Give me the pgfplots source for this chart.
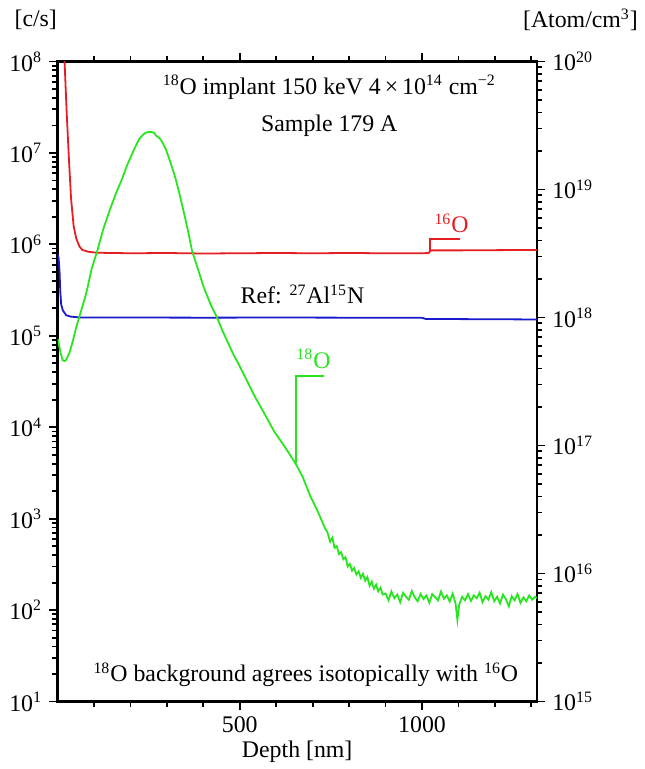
\documentclass[border=0pt]{standalone}
\usepackage{pgfplots}
\pgfplotsset{compat=1.18}
\usepackage{fontspec}
\setmainfont{Liberation Serif}
\usetikzlibrary{calc}
\definecolor{sred}{RGB}{230,30,35}
\definecolor{sgreen}{RGB}{40,230,30}
\definecolor{sblue}{RGB}{25,25,205}

\begin{document}
\begin{tikzpicture}
% right axis [Atom/cm3]
\begin{axis}[width=241.5pt, height=322.5pt, scale only axis,
  xmin=0, xmax=1315,
  ymode=log, log basis y=10, ymin=1e15, ymax=1e20,
  tick align=outside, tick style={line width=0.9pt, black},
  axis line style={line width=1.1pt},
  xtick=\empty, ytick pos=right,
  font=\fontsize{12}{14}\selectfont,
  yticklabel={10\textsuperscript{\pgfmathparse{int(round(\tick))}\pgfmathresult}},
]
\addplot[draw=none] coordinates {(100,1e16)};
\end{axis}
% main axis [c/s]
\begin{axis}[name=main, width=241.5pt, height=322.5pt, scale only axis,
  xmin=0, xmax=1315,
  ymode=log, log basis y=10, ymin=10, ymax=1e8,
  tick align=outside, tick style={line width=0.9pt, black},
  axis line style={line width=1.1pt},
  xtick pos=both, ytick pos=left,
  xtick={500,1000}, xticklabels={500,1000},
  minor xtick={100,200,...,1300},
  font=\fontsize{12}{14}\selectfont,
  yticklabel={10\textsuperscript{\pgfmathparse{int(round(\tick))}\pgfmathresult}},
  xlabel={Depth [nm]},
  xlabel style={yshift=3pt},
  clip mode=individual,
]
% 16O
\addplot[sred, line width=0.9pt] coordinates {
(14,2e8) (19,1.05e8) (25,2.8e7) (31,8.9e6) (37,3.2e6) (44,1.6e6) (51,1.17e6)
(60,9.5e5) (68,8.7e5) (85,8.3e5) (109,8.1e5) (200,8.0e5) (300,8.05e5)
(400,7.95e5) (500,8.0e5) (600,8.05e5) (700,8.0e5) (800,8.05e5) (900,8.0e5)
(1000,8.0e5) (1018,8.05e5) (1024,8.6e5) (1100,8.6e5) (1200,8.65e5) (1315,8.7e5)
};
% Ref 27Al15N
\addplot[sblue, line width=0.9pt] coordinates {
(1,7.8e5) (3,7.0e5) (5.5,5.1e5) (7.4,3.1e5) (10,2.2e5) (14.5,1.9e5) (23.7,1.68e5)
(37,1.62e5) (60,1.59e5) (200,1.585e5) (400,1.58e5) (600,1.585e5) (800,1.58e5)
(1000,1.575e5) (1010,1.53e5) (1315,1.51e5)
};
% 18O
\addplot[sgreen, line width=0.9pt] coordinates {
(1,9.2e4) (5,7.6e4) (8,6.6e4) (14,5.4e4) (20,5.3e4) (24,5.5e4) (33,6.6e4) (42,8.8e4)
(51,1.23e5) (65,1.9e5) (79,2.95e5) (94,5.5e5) (109,8.5e5) (125,1.45e6) (142,2.3e6)
(160,3.6e6) (177,5.2e6) (190,7.2e6) (202,9.3e6) (214,1.18e7) (224,1.42e7) (233,1.56e7)
(240,1.65e7) (250,1.7e7) (257,1.7e7) (265,1.66e7) (270,1.55e7) (280,1.45e7) (287,1.32e7)
(297,1.1e7) (306,8.7e6) (315,6.8e6) (324,5.2e6) (335,3.5e6) (347,2.2e6) (358,1.4e6)
(369,8.5e5) (385,5.4e5) (401,3.4e5) (420,2.2e5) (437,1.6e5) (452,1.15e5) (467,8.5e4)
(482,6.3e4) (497,4.9e4) (520,3.2e4) (542,2.14e4) (568,1.4e4) (595,8.9e3) (625,6.0e3)
(652,4.07e3) (672,2.9e3) (693,1.78e3) (714,1.2e3) (734,7.8e2) (740,720) (748,560)
(754,620) (760,480) (766,500) (772,410) (778,430) (784,360) (790,380) (796,300)
(802,320) (808,270) (814,290) (820,245) (826,265) (832,225) (838,250) (844,210)
(850,230) (856,185) (862,205) (868,172) (874,190) (880,160) (886,176) (892,148)
(900,152) (908,128) (916,160) (924,135) (932,148) (940,122) (948,155) (956,140)
(964,130) (972,162) (980,138) (988,125) (996,150) (1004,132) (1012,145) (1020,120)
(1028,150) (1036,138) (1044,128) (1052,160) (1060,133) (1068,145) (1076,124) (1084,152)
(1092,118) (1097,78) (1102,115) (1110,140) (1118,128) (1126,150) (1134,126) (1142,145)
(1150,135) (1158,155) (1166,122) (1174,142) (1182,130) (1190,158) (1198,125) (1206,140)
(1214,118) (1222,148) (1230,132) (1238,110) (1246,142) (1254,128) (1262,150) (1270,120)
(1278,138) (1286,125) (1294,145) (1302,130) (1310,140) (1315,135)
};
% annotations
\draw[sred, line width=0.9pt] (axis cs:1022,8.5e5) -- (axis cs:1022,1.15e6) -- (axis cs:1103,1.15e6);
\draw[sgreen, line width=0.9pt] (axis cs:655,4.07e3) -- (axis cs:655,3.63e4) -- (axis cs:732,3.63e4);
\node[sred] at (rel axis cs:0.822,0.747) {\textsuperscript{16}O};
\node[sgreen] at (rel axis cs:0.534,0.535) {\textsuperscript{18}O};
\node at (rel axis cs:0.511,0.636) {Ref: \textsuperscript{27}Al\textsuperscript{15}N};
\node at (rel axis cs:0.567,0.960) {\textsuperscript{18}O implant 150 keV 4\,×\,10\textsuperscript{14} cm\textsuperscript{−2}};
\node at (rel axis cs:0.567,0.899) {Sample 179 A};
\node at (rel axis cs:0.518,0.042) {\textsuperscript{18}O background agrees isotopically with \textsuperscript{16}O};
\node at (rel axis cs:-0.0455,1.065) {[c/s]};
\node at (rel axis cs:1.091,1.065) {[Atom/cm\textsuperscript{3}]};
\end{axis}
\path ($(main.south west)+(-29pt,-31pt)$) rectangle ($(main.north east)+(51.5pt,31pt)$);
\end{tikzpicture}
\end{document}
